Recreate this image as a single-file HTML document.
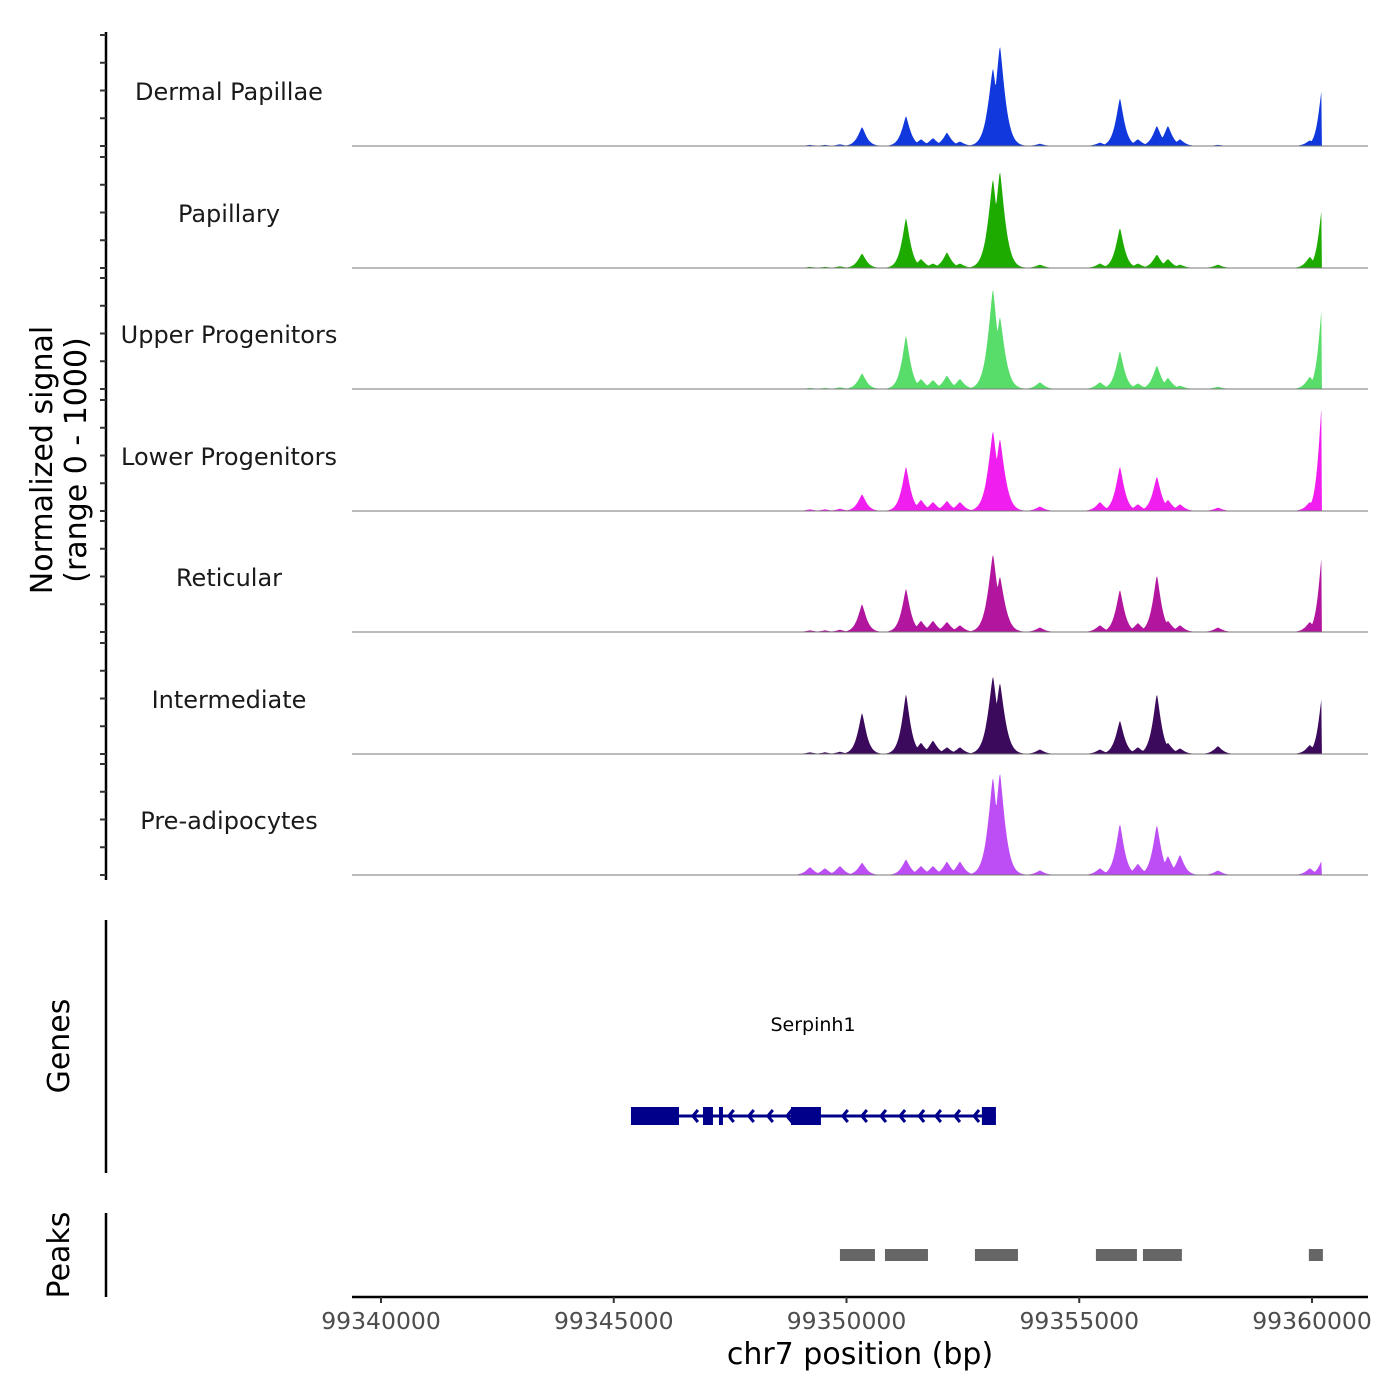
<!DOCTYPE html>
<html><head><meta charset="utf-8"><style>body{margin:0;background:#fff}svg{display:block;font-family:"DejaVu Sans","Liberation Sans",sans-serif}</style></head>
<body>
<svg id="chart" width="1400" height="1400" viewBox="0 0 1400 1400" xmlns="http://www.w3.org/2000/svg"></svg>
<script>
const trackNames=["Dermal Papillae","Papillary","Upper Progenitors","Lower Progenitors","Reticular","Intermediate","Pre-adipocytes"];
const trackColors=["#1038dc","#1eab00","#58dc6a","#f01ff0","#b2169f","#3b0a5c","#bd4df5"];
const peakPositions=[99349215,99349537,99349859,99350333,99351278,99351600,99351857,99352158,99352437,99353146,99353296,99354155,99355444,99355874,99356260,99356668,99356905,99357163,99357979,99359955,99360213];
const dpHeights=[10,10,15,170,270,60,70,120,40,700,900,20,30,430,60,180,180,60,10,50,520];
const papHeights=[10,10,15,130,450,80,40,140,40,800,870,30,40,360,40,120,80,30,30,100,540];
const upperHeights=[10,10,15,140,480,90,80,120,90,900,650,60,60,340,50,210,100,30,20,110,740];
const lowerHeights=[15,15,20,150,400,100,80,90,80,720,650,40,80,400,60,310,100,60,30,80,980];
const retHeights=[15,15,20,250,390,100,100,90,60,700,500,40,60,380,80,510,100,60,40,90,700];
const interHeights=[15,15,20,370,540,100,120,60,60,700,640,40,40,300,60,540,100,50,70,80,520];
const preHeights=[70,60,80,110,140,80,80,120,120,880,920,40,60,460,100,450,170,180,40,60,130];
const allHeights=[dpHeights,papHeights,upperHeights,lowerHeights,retHeights,interHeights,preHeights];
const exonStarts=[99345370,99346917,99347260,99348807,99352909];
const exonEnds=[99346401,99347131,99347346,99349451,99353210];
const geneRange=[99345370,99353210];
const arrowPositions=[99346700,99347470,99347900,99348310,99348720,99349920,99350330,99350740,99351150,99351560,99351920,99352330,99352740];
const peakStarts=[99349859,99350826,99352759,99355358,99356368,99359933];
const peakEnds=[99350611,99351750,99353683,99356239,99357205,99360234];
const xTicks=[99340000,99345000,99350000,99355000,99360000];

const NS="http://www.w3.org/2000/svg";
const svg=document.getElementById('chart');
function el(tag,attrs,parent,txt){const e=document.createElementNS(NS,tag);for(const k in attrs)e.setAttribute(k,attrs[k]);if(txt!==undefined)e.textContent=txt;(parent||svg).appendChild(e);return e;}
const X0=381,PXB=931/20000;
function xs(bp){return X0+(bp-99340000)*PXB;}
const baselines=[146,268,389,511,632,754,875];
const TH=111;
function ys(v,i){return baselines[i]-v/1000*TH;}

const ax=el('line',{x1:106,y1:32,x2:106,y2:880,stroke:'#000','stroke-width':2.5});

for(let i=0;i<7;i++){for(let k=0;k<=4;k++){const y=ys(k*250,i);const t=el('line',{x1:100,y1:y,x2:106,y2:y,stroke:'#333','stroke-width':2});}}
const yt=el('text',{transform:'translate(52,460) rotate(-90)','text-anchor':'middle','font-size':30,fill:'#000'});

el('tspan',{x:0,dy:0},yt,'Normalized signal');el('tspan',{x:0,dy:34},yt,'(range 0 - 1000)');

for(let i=0;i<7;i++){
  const g=el('g',{});
  const lab=el('text',{x:229,y:baselines[i]-46,'text-anchor':'middle','font-size':24,fill:'#1a1a1a'},g,trackNames[i]);
  
  const h=allHeights[i];let d='M'+xs(99341000)+','+baselines[i];
  for(let bp=99341000;bp<=99360213;bp+=15){let v=4;for(let j=0;j<peakPositions.length;j++){const dd=bp-peakPositions[j];if(dd>0&&j===peakPositions.length-1)continue;const w=(j===9||j===10)?150:(j===peakPositions.length-1?110:130);const u=Math.abs(dd)/w;v=Math.max(v,h[j]*Math.exp(-Math.pow(u,1.3)));}
    d+=' L'+xs(bp).toFixed(1)+','+ys(v,i).toFixed(1);}
  d+=' L'+xs(99360213)+','+baselines[i]+' Z';
  const p=el('path',{d:d,fill:trackColors[i]},g);
  const bl=el('line',{x1:352,y1:baselines[i],x2:1368,y2:baselines[i],stroke:'#777','stroke-width':1},g);
}

const ga=el('line',{x1:106,y1:920,x2:106,y2:1173,stroke:'#000','stroke-width':2.5});
const gt=el('text',{transform:'translate(69,1046) rotate(-90)','text-anchor':'middle','font-size':30},svg,'Genes');
const gg=el('g',{});
el('text',{x:813,y:1031,'text-anchor':'middle','font-size':19,fill:'#000'},gg,'Serpinh1');
el('line',{x1:xs(geneRange[0]),y1:1116,x2:xs(geneRange[1]),y2:1116,stroke:'#00008b','stroke-width':3},gg);
for(let j=0;j<exonStarts.length;j++){const r=el('rect',{x:xs(exonStarts[j]),y:1107,width:xs(exonEnds[j])-xs(exonStarts[j]),height:18,fill:'#00008b'},gg);}
arrowPositions.forEach(bp=>{const x=xs(bp);el('path',{d:`M${x+5},1110 L${x},1116 L${x+5},1122`,stroke:'#00008b','stroke-width':3,fill:'none'},gg);});

const pa=el('line',{x1:106,y1:1213,x2:106,y2:1297,stroke:'#000','stroke-width':2.5});
const pt=el('text',{transform:'translate(69,1255) rotate(-90)','text-anchor':'middle','font-size':30},svg,'Peaks');
for(let j=0;j<peakStarts.length;j++){const r=el('rect',{x:xs(peakStarts[j]),y:1249,width:xs(peakEnds[j])-xs(peakStarts[j]),height:12,fill:'#666'});}

const xa=el('line',{x1:352,y1:1297,x2:1368,y2:1297,stroke:'#000','stroke-width':2.5});
xTicks.forEach(t=>{const x=xs(t);el('line',{x1:x,y1:1297,x2:x,y2:1303,stroke:'#333','stroke-width':2});const l=el('text',{x:x,y:1329,'text-anchor':'middle','font-size':23.5,fill:'#4d4d4d'},svg,String(t));});
const xt=el('text',{x:860,y:1364,'text-anchor':'middle','font-size':30,fill:'#000'},svg,'chr7 position (bp)');
</script>
</body></html>
